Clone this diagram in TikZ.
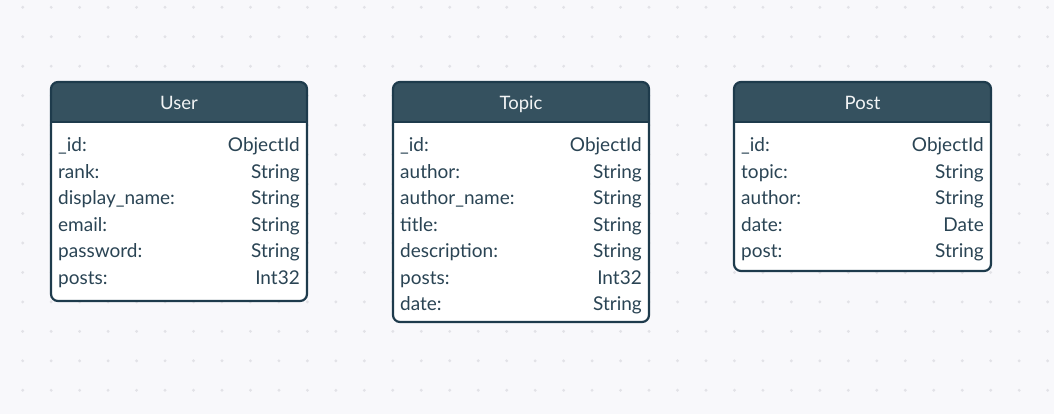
\documentclass[tikz,border=0pt]{standalone}
\usepackage{fontspec}
\setmainfont{Lato}
\definecolor{bgc}{HTML}{F8F8FB}
\definecolor{dotc}{HTML}{E2E2E7}
\definecolor{hdrc}{HTML}{35515F}
\definecolor{brdc}{HTML}{1E3B4C}
\definecolor{txtc}{HTML}{2A4454}
\definecolor{titc}{HTML}{F2F4F5}
\tikzset{
  rowkey/.style={anchor=base west, inner sep=0pt, text=txtc, font=\fontsize{19}{21}\selectfont},
  rowtype/.style={anchor=base east, inner sep=0pt, text=txtc, font=\fontsize{19}{21}\selectfont},
  tabtitle/.style={anchor=base, inner sep=0pt, text=titc, font=\fontsize{18.5}{21}\selectfont},
  tabborder/.style={draw=brdc, line width=2.2pt, rounded corners=7pt},
}
% #1 name, #2 x1, #3 x2, #4 y bottom, #5 title, #6 rows
\newcommand{\dbtable}[6]{%
  \fill[white, rounded corners=7pt] (#2,82) rectangle (#3,#4);
  \begin{scope}
    \clip[rounded corners=7pt] (#2,82) rectangle (#3,#4);
    \fill[hdrc] (#2,82) rectangle (#3,122.5);
  \end{scope}
  \draw[brdc, line width=2pt] (#2,122.5) -- (#3,122.5);
  \draw[tabborder] (#2,82) rectangle (#3,#4) node[midway, draw=none] (#1-box) {};
  \node[tabtitle] (#1-title) at ({(#2+#3)/2},109.5) {#5};
  \foreach \k/\t [count=\i from 0] in {#6} {
    \node[rowkey] (#1-key-\i) at ({#2+7},{152+26.4*\i}) {\k};
    \node[rowtype] (#1-type-\i) at ({#3-7},{152+26.4*\i}) {\t};
  }
}
\begin{document}
\begin{tikzpicture}[x=1pt,y=-1pt]
\fill[bgc] (0,0) rectangle (1054,414);
\useasboundingbox (0,0) rectangle (1054,414);
\foreach \i in {0,...,36} {
  \foreach \j in {0,...,13} {
    \fill[dotc] ({22.7+28.47*\i},{7.3+29.46*\j}) circle (1.6);
  }
}
\dbtable{user}{51}{307}{301}{User}{\_id:/ObjectId, rank:/String, display\_name:/String, email:/String, password:/String, posts:/Int32}
\dbtable{topic}{393}{649}{322}{Topic}{\_id:/ObjectId, author:/String, author\_name:/String, title:/String, description:/String, posts:/Int32, date:/String}
\dbtable{post}{734}{991}{271}{Post}{\_id:/ObjectId, topic:/String, author:/String, date:/Date, post:/String}
\end{tikzpicture}
\end{document}
